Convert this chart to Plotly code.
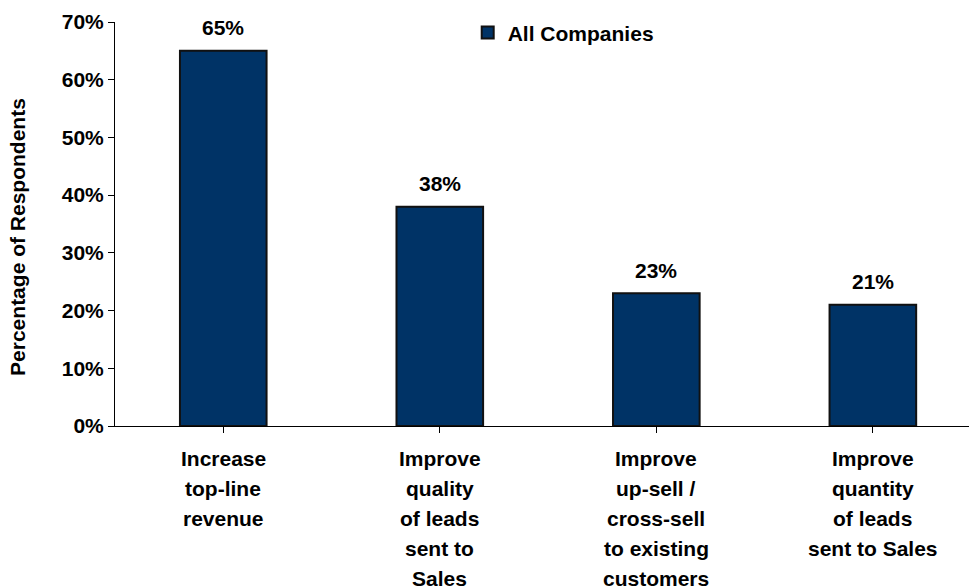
import plotly.graph_objects as go

categories = [
    "Increase<br>top-line<br>revenue",
    "Improve<br>quality<br>of leads<br>sent to<br>Sales",
    "Improve<br>up-sell /<br>cross-sell<br>to existing<br>customers",
    "Improve<br>quantity<br>of leads<br>sent to Sales",
]
values = [65, 38, 23, 21]
series_name = "All Companies"
y_title = "Percentage of Respondents"
y_ticks = [0, 10, 20, 30, 40, 50, 60, 70]
y_ticklabels = [f"{v}%" for v in y_ticks]

FONT = "Liberation Sans, Arial, sans-serif"
FS = 21

xs = list(range(len(categories)))

fig = go.Figure()
fig.add_trace(go.Bar(
    x=xs,
    y=values,
    name=f"<b>{series_name}</b>",
    width=0.4,
    marker=dict(color="#003366", line=dict(color="#111111", width=2)),
    cliponaxis=False,
    showlegend=True,
))

annotations = []
# value labels
for x, v in zip(xs, values):
    annotations.append(dict(
        x=x, y=v, xref="x", yref="y", text=f"<b>{v}%</b>",
        showarrow=False, yanchor="middle", yshift=23,
        font=dict(family=FONT, size=FS, color="black"),
    ))
# category labels, one annotation per line for Excel-like line spacing
for x, c in zip(xs, categories):
    for i, line in enumerate(c.split("<br>")):
        annotations.append(dict(
            x=x, y=0, xref="x", yref="paper", text=f"<b>{line}</b>",
            showarrow=False, yanchor="middle", xanchor="center",
            yshift=-(32 + 30 * i),
            font=dict(family=FONT, size=FS, color="black"),
        ))
# y-axis title
annotations.append(dict(
    x=-0.1136, y=0.468, xref="paper", yref="paper",
    text=f"<b>{y_title}</b>", textangle=-90,
    showarrow=False, xanchor="center", yanchor="middle",
    font=dict(family=FONT, size=FS, color="black"),
))

fig.update_layout(
    width=969, height=587,
    margin=dict(l=115, r=0, t=22, b=161),
    paper_bgcolor="white", plot_bgcolor="white",
    font=dict(family=FONT, size=FS, color="black"),
    showlegend=True,
    legend=dict(
        x=0.413, y=0.973, xanchor="left", yanchor="middle",
        bgcolor="rgba(0,0,0,0)",
        font=dict(family=FONT, size=FS, color="black"),
        itemwidth=30,
    ),
    annotations=annotations,
    xaxis=dict(
        range=[-0.5, 3.444],
        tickmode="array",
        tickvals=xs,
        showticklabels=False,
        tickson="boundaries",
        ticks="outside", ticklen=6, tickcolor="black",
        showline=True, linecolor="black", linewidth=1,
        showgrid=False, zeroline=False,
    ),
    yaxis=dict(
        range=[0, 70],
        tickmode="array",
        tickvals=y_ticks,
        ticktext=[f"<b>{t}</b>" for t in y_ticklabels],
        ticks="outside", ticklen=6, tickcolor="black",
        showline=True, linecolor="black", linewidth=1,
        showgrid=False, zeroline=False,
        tickfont=dict(family=FONT, size=FS, color="black"),
    ),
)

fig.write_html("out.html")
